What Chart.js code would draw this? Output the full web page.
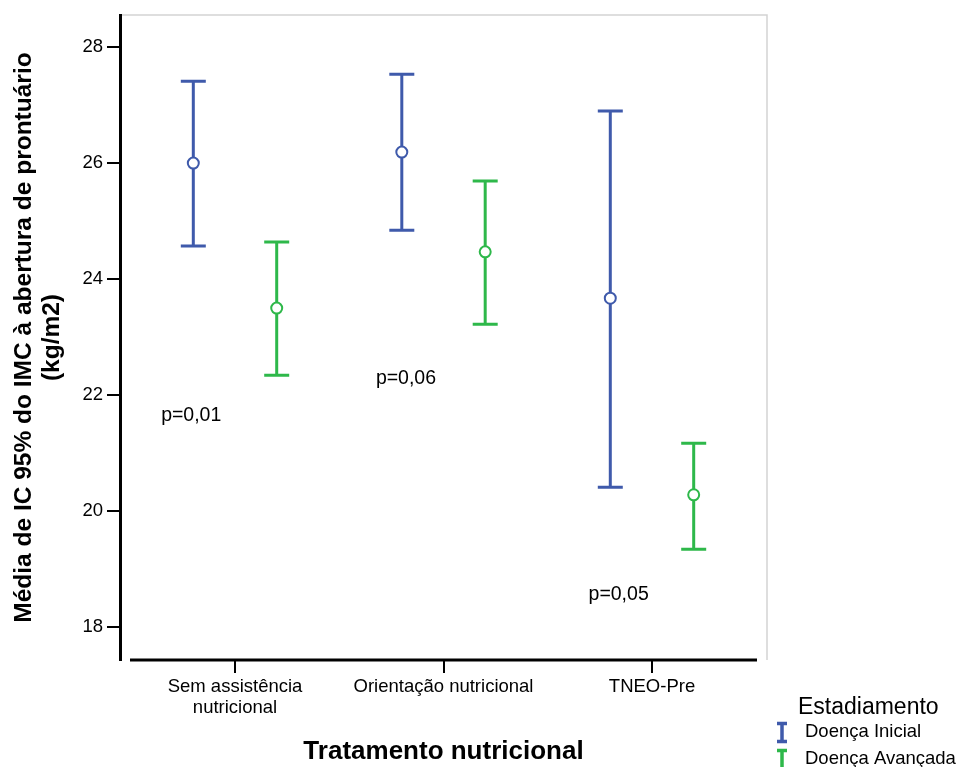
<!DOCTYPE html>
<html lang="pt">
<head>
<meta charset="UTF-8">
<title>IMC por tratamento nutricional</title>
<script src="https://cdn.jsdelivr.net/npm/chart.js@4.4.0/dist/chart.umd.min.js"></script>
<style>
    html, body { margin: 0; padding: 0; background: #fff; }
</style>
</head>
<body>
<canvas id="chart" width="959" height="767"></canvas>
<script>
    // data
    var categories = [['Sem assistência', 'nutricional'], 'Orientação nutricional', 'TNEO-Pre'];
    var catPos = [1, 2, 3];

    var inicialMean = [26.00, 26.19, 23.67];
    var inicialLow  = [24.57, 24.84, 20.41];
    var inicialHigh = [27.41, 27.53, 26.90];

    var avancadaMean = [23.50, 24.47, 20.28];
    var avancadaLow  = [22.34, 23.22, 19.34];
    var avancadaHigh = [24.64, 25.69, 21.17];

    var pLabels = ['p=0,01', 'p=0,06', 'p=0,05'];
    var pX = [0.79, 1.82, 2.84];
    var pY = [21.64, 22.28, 18.55];

    var yTicks = [18, 20, 22, 24, 26, 28];

    var BLUE = '#3f5aab';
    var GREEN = '#2eb84a';
    var FONT = '"Liberation Sans", Arial, Helvetica, sans-serif';

    var points = function(means, shift) {
        return means.map(function(v, i) { return {x: catPos[i] + shift, y: v}; });
    };

    var errorBars = {
        id: 'errorBars',
        beforeDatasetsDraw: function(chart) {
            var ctx = chart.ctx, ys = chart.scales.y;
            chart.data.datasets.forEach(function(ds, i) {
                var meta = chart.getDatasetMeta(i);
                meta.data.forEach(function(pt, j) {
                    var top = ys.getPixelForValue(ds.high[j]);
                    var bot = ys.getPixelForValue(ds.low[j]);
                    ctx.save();
                    ctx.strokeStyle = ds.borderColor;
                    ctx.lineWidth = 3;
                    ctx.beginPath();
                    ctx.moveTo(pt.x, top); ctx.lineTo(pt.x, bot);
                    ctx.moveTo(pt.x - 12.5, top); ctx.lineTo(pt.x + 12.5, top);
                    ctx.moveTo(pt.x - 12.5, bot); ctx.lineTo(pt.x + 12.5, bot);
                    ctx.stroke();
                    ctx.restore();
                });
            });
        }
    };

    var extras = {
        id: 'extras',
        beforeDraw: function(chart) {
            var ctx = chart.ctx, a = chart.chartArea;
            ctx.save();
            // light frame top and right
            ctx.strokeStyle = '#d3d3d3';
            ctx.lineWidth = 1.5;
            ctx.beginPath();
            ctx.moveTo(a.left, a.top); ctx.lineTo(a.right, a.top); ctx.lineTo(a.right, a.bottom);
            ctx.stroke();
            ctx.restore();
        },
        afterDraw: function(chart) {
            var ctx = chart.ctx, a = chart.chartArea;
            var xs = chart.scales.x, ys = chart.scales.y;
            ctx.save();
            // x axis line, slightly detached from the y axis
            ctx.strokeStyle = '#000';
            ctx.lineWidth = 3;
            ctx.beginPath();
            ctx.moveTo(a.left + 10, a.bottom); ctx.lineTo(a.right - 10, a.bottom);
            ctx.stroke();

            // p-values
            ctx.fillStyle = '#000';
            ctx.font = '19.5px ' + FONT;
            ctx.textAlign = 'center';
            ctx.textBaseline = 'middle';
            pLabels.forEach(function(t, i) {
                ctx.fillText(t, xs.getPixelForValue(pX[i]), ys.getPixelForValue(pY[i]));
            });

            // legend
            var lx = 782;
            ctx.textAlign = 'left';
            ctx.font = '23px ' + FONT;
            ctx.fillText('Estadiamento', 798, 708);
            ctx.font = '18.5px ' + FONT;
            ctx.fillText('Doença Inicial', 805, 732);
            ctx.fillText('Doença Avançada', 805, 759);
            ctx.lineWidth = 3.5;
            ctx.strokeStyle = BLUE;
            ctx.beginPath();
            ctx.moveTo(lx, 722); ctx.lineTo(lx, 743);
            ctx.moveTo(lx - 5, 723.5); ctx.lineTo(lx + 5, 723.5);
            ctx.moveTo(lx - 5, 741.5); ctx.lineTo(lx + 5, 741.5);
            ctx.stroke();
            ctx.strokeStyle = GREEN;
            ctx.beginPath();
            ctx.moveTo(lx, 749); ctx.lineTo(lx, 770);
            ctx.moveTo(lx - 5, 750.5); ctx.lineTo(lx + 5, 750.5);
            ctx.stroke();
            ctx.restore();
        }
    };

    var ctx = document.getElementById('chart').getContext('2d');
    var chart = new Chart(ctx, {
        type: 'scatter',
        data: {
            datasets: [{
                label: 'Doença Inicial',
                data: points(inicialMean, -0.2),
                low: inicialLow,
                high: inicialHigh,
                borderColor: BLUE,
                backgroundColor: '#fff',
                pointRadius: 5.5,
                pointBorderWidth: 2
            }, {
                label: 'Doença Avançada',
                data: points(avancadaMean, 0.2),
                low: avancadaLow,
                high: avancadaHigh,
                borderColor: GREEN,
                backgroundColor: '#fff',
                pointRadius: 5.5,
                pointBorderWidth: 2
            }]
        },
        options: {
            responsive: false,
            animation: false,
            layout: { padding: { top: 15, right: 192, left: 0, bottom: 0 } },
            plugins: { legend: { display: false }, tooltip: { enabled: false } },
            scales: {
                x: {
                    type: 'linear',
                    min: 0.4484,
                    max: 3.5516,
                    afterBuildTicks: function(s) { s.ticks = catPos.map(function(v) { return {value: v}; }); },
                    afterFit: function(s) { s.height = 107; },
                    border: { display: false },
                    grid: { drawOnChartArea: false, drawTicks: true, tickLength: 13, color: '#000', lineWidth: 2 },
                    ticks: {
                        color: '#000',
                        font: { family: FONT, size: 18.5, lineHeight: 1.15 },
                        padding: 3,
                        maxRotation: 0,
                        autoSkip: false,
                        callback: function(v) { return categories[catPos.indexOf(v)]; }
                    },
                    title: {
                        display: true,
                        text: 'Tratamento nutricional',
                        color: '#000',
                        font: { family: FONT, size: 26, weight: 'bold' },
                        padding: { top: 8, bottom: 0 }
                    }
                },
                y: {
                    min: 17.431,
                    max: 28.552,
                    afterBuildTicks: function(s) { s.ticks = yTicks.map(function(v) { return {value: v}; }); },
                    afterFit: function(s) { s.width = 120; },
                    border: { display: true, color: '#000', width: 3 },
                    grid: { drawOnChartArea: false, drawTicks: true, tickLength: 13, color: '#000', lineWidth: 2 },
                    ticks: {
                        color: '#000',
                        font: { family: FONT, size: 18.5 },
                        padding: 4
                    },
                    title: {
                        display: true,
                        text: ['Média de IC 95% do IMC à abertura de prontuário', '(kg/m2)'],
                        color: '#000',
                        font: { family: FONT, size: 24.5, weight: 'bold', lineHeight: 1.15 },
                        padding: { top: 10, bottom: 0 }
                    }
                }
            }
        },
        plugins: [errorBars, extras]
    });
</script>
</body>
</html>
